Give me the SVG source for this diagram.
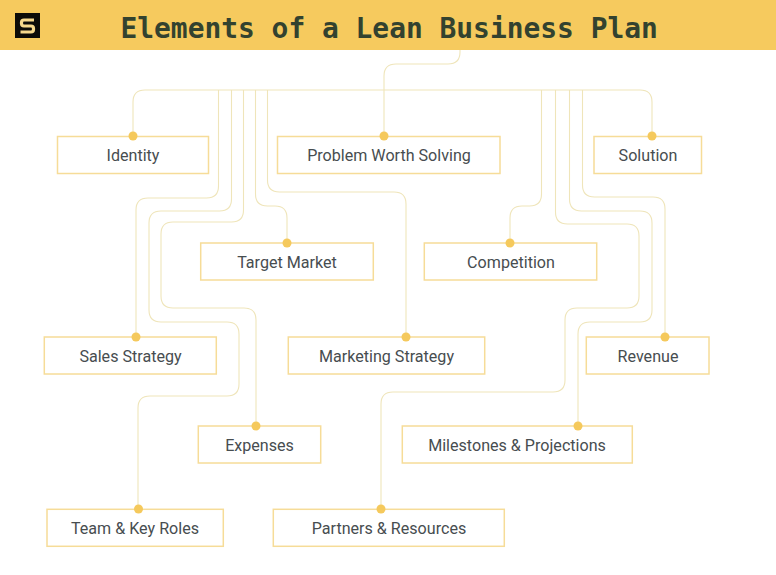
<svg xmlns="http://www.w3.org/2000/svg" width="776" height="575" viewBox="0 0 776 575">
<style>
.c{fill:none;stroke:#efe5ba;stroke-width:1.1}
.b{fill:#fff;stroke:#f6dc98;stroke-width:1.5}
.d{fill:#f5c95c}
.t{font-family:"Roboto","Liberation Sans",sans-serif;font-size:16.100px;fill:#474d50;text-anchor:middle}
.h{font-family:"DejaVu Sans Mono","Liberation Mono",monospace;font-weight:700;font-size:27.900px;fill:#33422f}
</style>
<rect width="776" height="575" fill="#fff"/>
<g id="header">
<rect width="776" height="50" fill="#f6ca5e"/>
<rect x="15" y="13" width="25" height="25" fill="#0c0b08"/>
<path d="M34 20H24Q21.500 20 21.500 22.500V23.500Q21.500 26 24 26H31Q33.500 26 33.500 28.500V29.500Q33.500 32 31 32H20.500" fill="none" stroke="#f6d88c" stroke-width="3.200"/>
<text class="h" x="120.500" y="37.500">Elements of a Lean Business Plan</text>
</g>
<g id="connectors">
<path class="c" d="M460 50V52Q460 64 448 64H396Q384 64 384 76V136"/>
<path class="c" d="M133 136V102Q133 90 145 90H640Q652 90 652 102V136"/>
<path class="c" d="M218.500 90V186Q218.500 198 206.500 198H148Q136 198 136 210V337"/>
<path class="c" d="M231.500 90V199Q231.500 211 219.500 211H161Q149 211 149 223V310Q149 322 161 322H227Q239 322 239 334V384Q239 396 227 396H150Q138 396 138 408V509"/>
<path class="c" d="M243.500 90V210Q243.500 222 231.500 222H173Q161 222 161 234V296Q161 308 173 308H244Q256 308 256 320V426"/>
<path class="c" d="M255.500 90V194Q255.500 206 267.500 206H275Q287 206 287 218V243"/>
<path class="c" d="M267.500 90V180Q267.500 192 279.500 192H394Q406 192 406 204V337"/>
<path class="c" d="M541.500 90V194Q541.500 206 529.500 206H522Q510 206 510 218V243"/>
<path class="c" d="M555.500 90V212Q555.500 224 567.500 224H627Q639 224 639 236V296Q639 308 627 308H577Q565 308 565 320V380Q565 392 553 392H393Q381 392 381 404V509"/>
<path class="c" d="M569.500 90V199Q569.500 211 581.500 211H640Q652 211 652 223V310Q652 322 640 322H590Q578 322 578 334V426"/>
<path class="c" d="M582.500 90V185Q582.500 197 594.500 197H653Q665 197 665 209V337"/>
</g>
<g id="identity"><rect class="b" x="57.500" y="136.500" width="151" height="37"/><circle class="d" cx="133" cy="136" r="4.500"/><text class="t" x="133" y="161">Identity</text></g>
<g id="problem-worth-solving"><rect class="b" x="277.500" y="136.500" width="222.500" height="37"/><circle class="d" cx="384" cy="136" r="4.500"/><text class="t" x="389" y="161">Problem Worth Solving</text></g>
<g id="solution"><rect class="b" x="594" y="136.500" width="107.500" height="37"/><circle class="d" cx="652" cy="136" r="4.500"/><text class="t" x="648" y="161">Solution</text></g>
<g id="target-market"><rect class="b" x="200.700" y="243" width="172.600" height="37"/><circle class="d" cx="287" cy="243" r="4.500"/><text class="t" x="287" y="268">Target Market</text></g>
<g id="competition"><rect class="b" x="424.300" y="243" width="172.400" height="37"/><circle class="d" cx="510" cy="243" r="4.500"/><text class="t" x="511" y="268">Competition</text></g>
<g id="sales-strategy"><rect class="b" x="44.300" y="337" width="172" height="37"/><circle class="d" cx="136" cy="337" r="4.500"/><text class="t" x="130.500" y="362">Sales Strategy</text></g>
<g id="marketing-strategy"><rect class="b" x="288.300" y="337" width="196.400" height="37"/><circle class="d" cx="406" cy="337" r="4.500"/><text class="t" x="386.500" y="362">Marketing Strategy</text></g>
<g id="revenue"><rect class="b" x="586.300" y="337" width="122.700" height="37"/><circle class="d" cx="665" cy="337" r="4.500"/><text class="t" x="648" y="362">Revenue</text></g>
<g id="expenses"><rect class="b" x="198.300" y="426" width="122.400" height="37"/><circle class="d" cx="256" cy="426" r="4.500"/><text class="t" x="259.500" y="451">Expenses</text></g>
<g id="milestones-projections"><rect class="b" x="402.300" y="426" width="230" height="37"/><circle class="d" cx="578" cy="426" r="4.500"/><text class="t" x="517" y="451">Milestones &amp; Projections</text></g>
<g id="team-key-roles"><rect class="b" x="47" y="509.300" width="176.300" height="37"/><circle class="d" cx="138.500" cy="509" r="4.500"/><text class="t" x="135" y="534">Team &amp; Key Roles</text></g>
<g id="partners-resources"><rect class="b" x="273.300" y="509.300" width="231" height="37"/><circle class="d" cx="381" cy="509" r="4.500"/><text class="t" x="389" y="534">Partners &amp; Resources</text></g>
</svg>
